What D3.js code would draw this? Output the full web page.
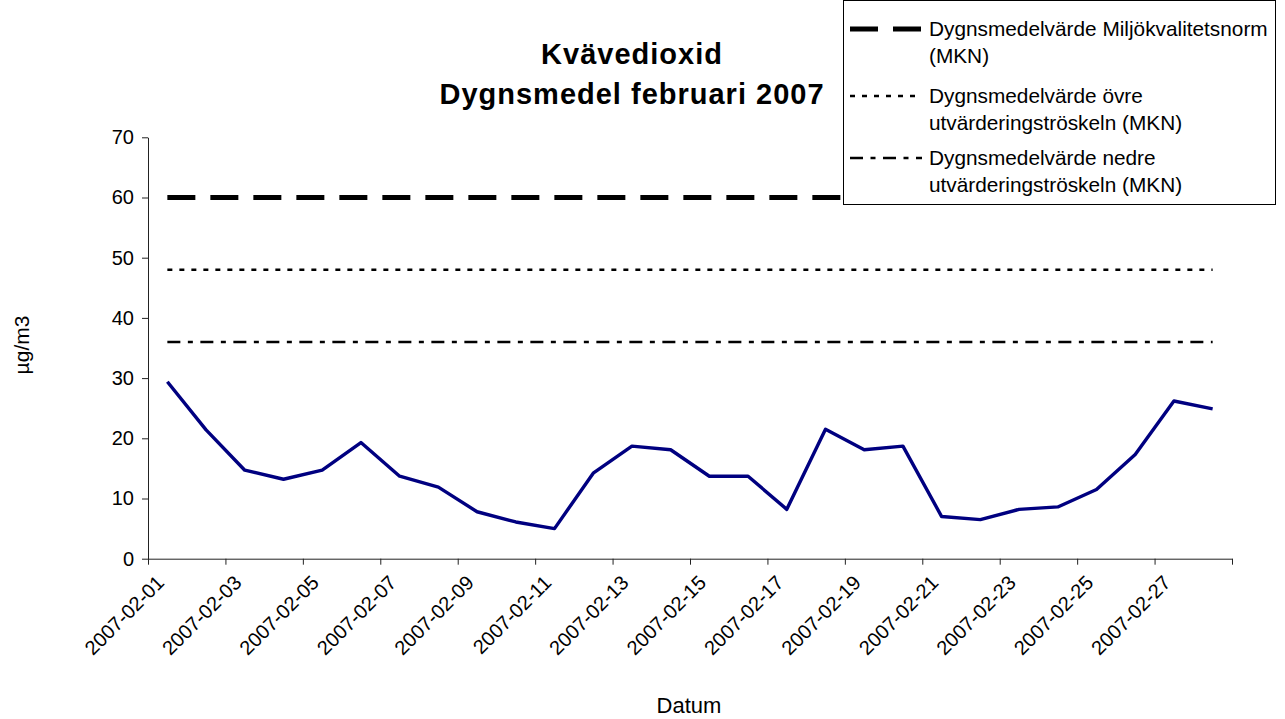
<!DOCTYPE html>
<html>
<head>
<meta charset="utf-8">
<script src="https://cdn.jsdelivr.net/npm/d3@7"></script>
<style>
  body { margin: 0; background: #fff; }
  text { font-family: "Liberation Sans", Arial, sans-serif; fill: #000; }
</style>
</head>
<body>
<script>
var dates = ["2007-02-01","2007-02-02","2007-02-03","2007-02-04","2007-02-05","2007-02-06","2007-02-07",
             "2007-02-08","2007-02-09","2007-02-10","2007-02-11","2007-02-12","2007-02-13","2007-02-14",
             "2007-02-15","2007-02-16","2007-02-17","2007-02-18","2007-02-19","2007-02-20","2007-02-21",
             "2007-02-22","2007-02-23","2007-02-24","2007-02-25","2007-02-26","2007-02-27","2007-02-28"];

var no2 = [29.4, 21.4, 14.7, 13.2, 14.7, 19.3, 13.7, 11.9, 7.8, 6.1, 5.0, 14.2, 18.7, 18.1,
           13.7, 13.7, 8.2, 21.5, 18.1, 18.7, 7.0, 6.5, 8.2, 8.6, 11.5, 17.3, 26.2, 24.9];

var limitValues = [60, 48, 36];
var limitNames = [["Dygnsmedelvärde Miljökvalitetsnorm", "(MKN)"],
                  ["Dygnsmedelvärde övre", "utvärderingströskeln (MKN)"],
                  ["Dygnsmedelvärde nedre", "utvärderingströskeln (MKN)"]];
var limitStyles = [{w: 5, dash: "28,15"}, {w: 2.6, dash: "5,7"}, {w: 2.6, dash: "13,7.5,5,7.5"}];

var yTicks = [0, 10, 20, 30, 40, 50, 60, 70];

var width = 1285, height = 719;
var plotLeft = 148, plotRight = 1232, plotTop = 137.3, plotBottom = 558.7;

var svg = d3.select("body")
            .append("svg")
            .attr("width", width)
            .attr("height", height);

var xPoint = d3.scalePoint()
               .domain(dates)
               .range([plotLeft, plotRight])
               .padding(0.5);

var xLin = d3.scaleLinear()
             .domain([0, dates.length])
             .range([plotLeft, plotRight]);

var yScale = d3.scaleLinear()
               .domain([0, 70])
               .range([plotBottom, plotTop]);

// title
svg.append("text")
   .attr("x", 632).attr("y", 64)
   .attr("text-anchor", "middle")
   .style("font-size", "29px").style("font-weight", "bold").style("letter-spacing", "1px")
   .text("Kvävedioxid");
svg.append("text")
   .attr("x", 632).attr("y", 104)
   .attr("text-anchor", "middle")
   .style("font-size", "29px").style("font-weight", "bold").style("letter-spacing", "1px")
   .text("Dygnsmedel februari 2007");

// y axis
var yAxis = svg.append("g")
   .attr("transform", "translate(" + plotLeft + ",0)")
   .call(d3.axisLeft(yScale).tickValues(yTicks).tickSize(6).tickSizeOuter(0).tickPadding(8));
yAxis.selectAll("text").style("font-size", "20px");

// x axis (ticks at category boundaries every 2 days)
var xAxis = svg.append("g")
   .attr("transform", "translate(0," + plotBottom + ")")
   .call(d3.axisBottom(xLin).tickValues(d3.range(0, dates.length + 1, 2)).tickSize(6).tickSizeOuter(0).tickFormat(""));

svg.selectAll("path.domain, .tick line").attr("stroke", "#222");

svg.selectAll(".xlab")
   .data(dates.filter(function(d, i){ return i % 2 == 0; }))
   .enter()
   .append("text")
   .attr("class", "xlab")
   .attr("text-anchor", "end")
   .attr("transform", function(d){ return "translate(" + (xPoint(d) - 2) + "," + 584 + ") rotate(-45)"; })
   .style("font-size", "20px")
   .text(function(d){ return d; });

// axis titles
svg.append("text")
   .attr("x", 689).attr("y", 713)
   .attr("text-anchor", "middle")
   .style("font-size", "22px")
   .text("Datum");
svg.append("text")
   .attr("transform", "translate(29,345) rotate(-90)")
   .attr("text-anchor", "middle")
   .style("font-size", "21px")
   .text("µg/m3");

// limit lines
limitValues.forEach(function(v, k){
  var line = d3.line()
               .x(function(d){ return xPoint(d); })
               .y(function(d){ return yScale(v); });
  svg.append("path")
     .datum(dates)
     .attr("d", line)
     .attr("fill", "none")
     .attr("stroke", "#000")
     .attr("stroke-width", limitStyles[k].w)
     .attr("stroke-dasharray", limitStyles[k].dash);
});

// NO2 series
var valueLine = d3.line()
                  .x(function(d, i){ return xPoint(dates[i]); })
                  .y(function(d){ return yScale(d); });
svg.append("path")
   .datum(no2)
   .attr("d", valueLine)
   .attr("fill", "none")
   .attr("stroke", "#000080")
   .attr("stroke-width", 3.4)
   .attr("stroke-linejoin", "round");

// legend
var legend = svg.append("g");
legend.append("rect")
      .attr("x", 843.5).attr("y", 0.5)
      .attr("width", 432).attr("height", 204)
      .attr("fill", "#fff")
      .attr("stroke", "#000");

var rowY = [29, 96, 158];
limitNames.forEach(function(names, k){
  legend.append("line")
        .attr("x1", 850).attr("x2", 922)
        .attr("y1", rowY[k]).attr("y2", rowY[k])
        .attr("stroke", "#000")
        .attr("stroke-width", limitStyles[k].w)
        .attr("stroke-dasharray", limitStyles[k].dash);
  names.forEach(function(t, j){
    legend.append("text")
          .attr("x", 929)
          .attr("y", rowY[k] + 7 + j * 27)
          .style("font-size", "20.8px")
          .text(t);
  });
});
</script>
</body>
</html>
